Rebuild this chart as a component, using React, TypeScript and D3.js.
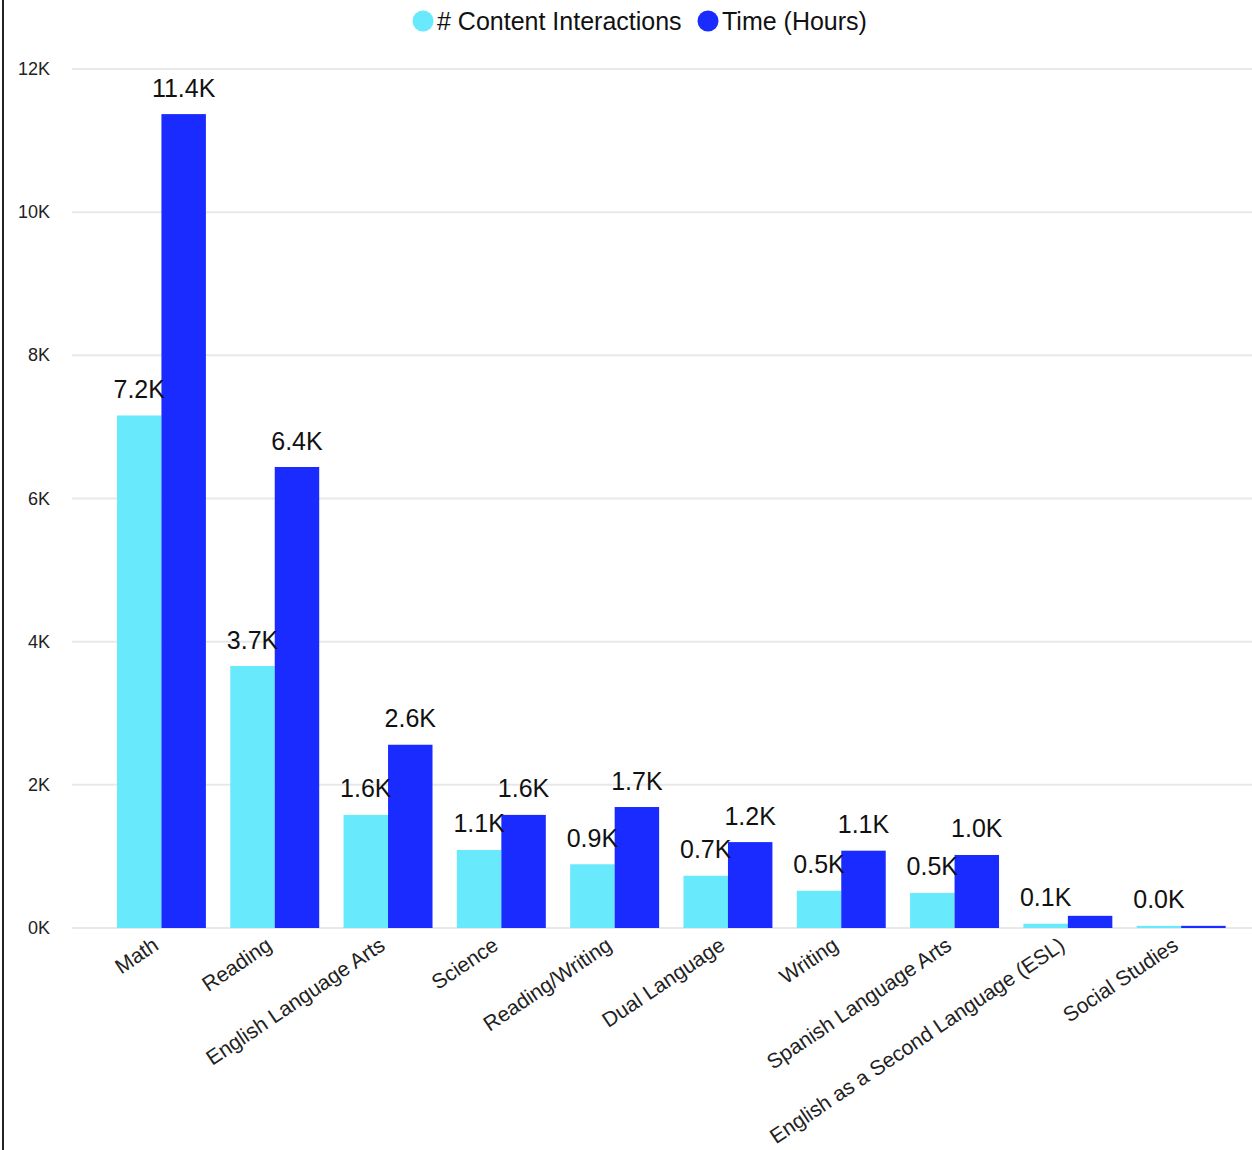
import React from "react";
import * as d3 from "d3";

const categories = [
  "Math",
  "Reading",
  "English Language Arts",
  "Science",
  "Reading/Writing",
  "Dual Language",
  "Writing",
  "Spanish Language Arts",
  "English as a Second Language (ESL)",
  "Social Studies",
];
const contentInteractions = [7160, 3660, 1580, 1090, 890, 730, 520, 490, 60, 30];
const timeHours = [11370, 6440, 2560, 1580, 1690, 1200, 1080, 1020, 170, 30];
const yTicks = [0, 2000, 4000, 6000, 8000, 10000, 12000];
const seriesNames = ["# Content Interactions", "Time (Hours)"];
const seriesColors = ["#69E9FC", "#1A2BFF"];

const W = 1252;
const H = 1150;
const FONT = "Arial, 'Liberation Sans', sans-serif";

const fmt = (v: number) => `${(v / 1000).toFixed(1)}K`;

export default function App() {
  const x = d3
    .scaleBand<string>()
    .domain(categories)
    .range([92.6, 1250])
    .padding(0.215);
  const inner = d3
    .scaleBand<number>()
    .domain([0, 1])
    .range([0, x.bandwidth()])
    .padding(0);
  const y = d3.scaleLinear().domain([0, 12000]).range([928, 69]);

  const series = [contentInteractions, timeHours];
  const labelGap = 17.5;
  const labelH = 20;

  return (
    <svg
      width={W}
      height={H}
      style={{ position: "absolute", left: 0, top: 0, display: "block", background: "#fff" }}
      fontFamily={FONT}
    >
      <rect x={2} y={0} width={2} height={H} fill="#222" />

      {/* legend */}
      <g fontSize={25} fill="#111">
        <circle cx={423} cy={21} r={10.5} fill={seriesColors[0]} />
        <text x={437} y={21} dominantBaseline="central">{seriesNames[0]}</text>
        <circle cx={708} cy={21} r={10.5} fill={seriesColors[1]} />
        <text x={722} y={21} dominantBaseline="central">{seriesNames[1]}</text>
      </g>

      {/* gridlines and y axis */}
      <g>
        {yTicks.map((t) => (
          <g key={t}>
            <line x1={72} x2={W} y1={y(t)} y2={y(t)} stroke="#e8e8e8" strokeWidth={2} />
            <text
              x={50}
              y={y(t)}
              textAnchor="end"
              dominantBaseline="central"
              fontSize={18}
              fill="#222"
            >
              {`${t / 1000}K`}
            </text>
          </g>
        ))}
      </g>

      {/* bars */}
      {categories.map((c, i) => (
        <g key={c} transform={`translate(${x(c)},0)`}>
          {series.map((s, k) => (
            <rect
              key={k}
              x={inner(k)}
              y={y(s[i])}
              width={inner.bandwidth()}
              height={y(0) - y(s[i])}
              fill={seriesColors[k]}
            />
          ))}
        </g>
      ))}

      {/* data labels; a label that would collide with its neighbour is dropped */}
      {categories.map((c, i) => {
        const base0 = y(series[0][i]) - labelGap;
        const base1 = y(series[1][i]) - labelGap;
        const show1 = Math.abs(base0 - base1) >= labelH;
        return (
          <g key={c} transform={`translate(${x(c)},0)`} fontSize={25} fill="#111" textAnchor="middle">
            <text x={inner(0)! + inner.bandwidth() / 2} y={base0}>
              {fmt(series[0][i])}
            </text>
            {show1 && (
              <text x={inner(1)! + inner.bandwidth() / 2} y={base1}>
                {fmt(series[1][i])}
              </text>
            )}
          </g>
        );
      })}

      {/* category labels */}
      {categories.map((c) => (
        <text
          key={c}
          transform={`translate(${x(c)! + x.bandwidth() / 2 - 10},936) rotate(-34)`}
          textAnchor="end"
          dy="0.72em"
          fontSize={21}
          fill="#222"
        >
          {c}
        </text>
      ))}
    </svg>
  );
}
